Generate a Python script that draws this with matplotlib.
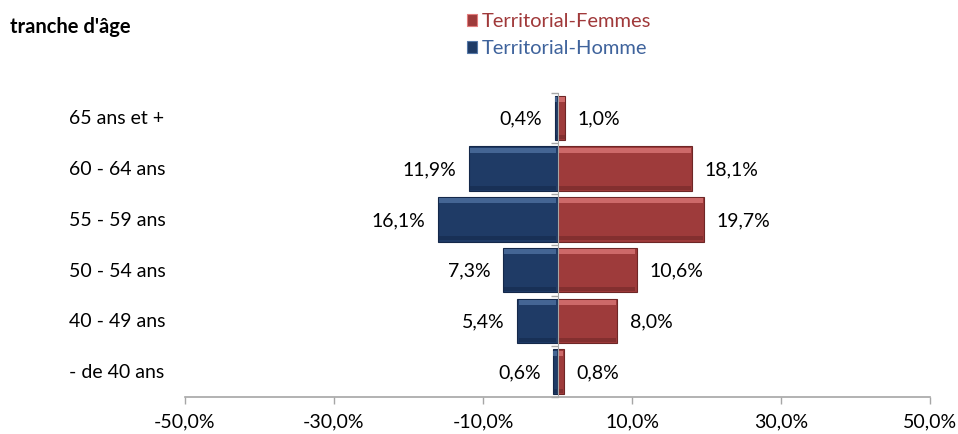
import matplotlib.pyplot as plt
from matplotlib.patches import Rectangle

# data (from bottom to top)
categories = ["- de 40 ans", "40 - 49 ans", "50 - 54 ans", "55 - 59 ans", "60 - 64 ans", "65 ans et +"]
hommes = [0.6, 5.4, 7.3, 16.1, 11.9, 0.4]
femmes = [0.8, 8.0, 10.6, 19.7, 18.1, 1.0]
xticks = [-50, -30, -10, 10, 30, 50]

plt.rcParams['font.family'] = ['Lato', 'DejaVu Sans']

red = "#9E3B3B"
red_hi = "#E27D7D"
red_dk = "#6E2626"
blue = "#1F3B66"
blue_hi = "#5578A8"
blue_dk = "#14284A"

fig = plt.figure(figsize=(9.58, 4.35), dpi=100)
ax = fig.add_axes([0.193, 0.085, 0.778, 0.70])

y = list(range(len(categories)))
h = 0.88


def bevel_bars(values, face, hi, dk):
    bars = ax.barh(y, values, height=h, color=face, edgecolor=dk, linewidth=0.8, zorder=2)
    for b in bars:
        x0, y0, w, hh = b.get_x(), b.get_y(), b.get_width(), b.get_height()
        xl, xr = min(x0, x0 + w), max(x0, x0 + w)
        bw = min(0.8, (xr - xl) / 4)
        # top highlight strip
        ax.add_patch(Rectangle((xl + bw * 0.2, y0 + hh * 0.86), (xr - xl) - bw * 0.4, hh * 0.11,
                               facecolor=hi, edgecolor='none', alpha=0.7, zorder=3))
        # bottom shade strip
        ax.add_patch(Rectangle((xl + bw * 0.2, y0 + hh * 0.03), (xr - xl) - bw * 0.4, hh * 0.09,
                               facecolor=dk, edgecolor='none', alpha=0.55, zorder=3))
    return bars


bevel_bars([-v for v in hommes], blue, blue_hi, blue_dk)
bevel_bars(femmes, red, red_hi, red_dk)

# data labels
for yi, v in zip(y, hommes):
    ax.annotate(f"{v:.1f}%".replace(".", ","), (-v, yi), xytext=(-9, 0), textcoords="offset points",
                ha="right", va="center", fontsize=14, color="#000000")
for yi, v in zip(y, femmes):
    ax.annotate(f"{v:.1f}%".replace(".", ","), (v, yi), xytext=(9, 0), textcoords="offset points",
                ha="left", va="center", fontsize=14, color="#000000")

# category labels on the left
for yi, c in zip(y, categories):
    ax.text(-0.155, yi, c, transform=ax.get_yaxis_transform(), ha="left", va="center", fontsize=14)

ax.set_xlim(-50, 50)
ax.set_ylim(-0.5, len(categories) - 0.5)
ax.set_xticks(xticks)
ax.set_xticklabels([f"{t:.1f}%".replace(".", ",") for t in xticks], fontsize=14)

ax.set_yticks([i - 0.5 for i in range(len(categories) + 1)])
ax.set_yticklabels([])

for s in ["top", "right"]:
    ax.spines[s].set_visible(False)
ax.spines["left"].set_position(("data", 0))
ax.spines["left"].set_color("#A6A6A6")
ax.spines["left"].set_zorder(4)
ax.spines["bottom"].set_color("#A6A6A6")
ax.spines["bottom"].set_linewidth(1.2)
ax.tick_params(axis="x", colors="#A6A6A6", length=5, width=1, labelcolor="#000000", pad=6)
ax.tick_params(axis="y", colors="#A6A6A6", length=5, width=1, direction="out")

# title
fig.text(0.010, 0.938, "tranche d'âge", fontsize=14.5, fontweight="bold", ha="left", va="center")

# legend
leg_items = [("Territorial-Femmes", red, red_hi, "#A0393A", 0.951),
             ("Territorial-Homme", blue, blue_hi, "#3F639C", 0.889)]
for label, face, hi, tc, yy in leg_items:
    fig.patches.append(Rectangle((0.487, yy - 0.014), 0.011, 0.028, transform=fig.transFigure,
                                 facecolor=face, edgecolor=hi, linewidth=0.8))
    fig.text(0.503, yy, label, fontsize=14.5, color=tc, ha="left", va="center")

fig.savefig("out.png", dpi=100)
